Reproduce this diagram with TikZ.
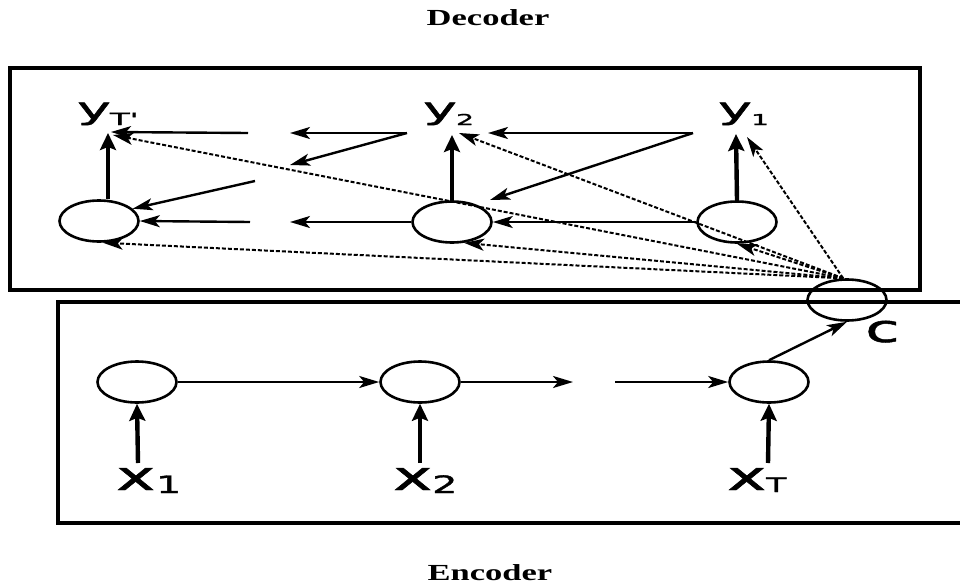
\documentclass[tikz,border=0pt]{standalone}
\usepackage{fontspec}
\usepackage{graphicx}
\newfontfamily\labfont[FakeBold=1.2]{DejaVu Sans}
\newfontfamily\titlefont{Liberation Serif}
\usetikzlibrary{arrows.meta,shapes.geometric}
\newcommand{\fsz}[1]{\fontsize{#1}{#1}\selectfont}
\begin{document}
\begin{tikzpicture}[x=1pt,y=-1pt,
  cell/.style={draw, ellipse, line width=2.6pt, minimum width=79pt, minimum height=41pt, inner sep=0pt},
  frame/.style={line width=3.6pt},
  thickarr/.style={line width=4.4pt, -{Stealth[length=17pt,width=16pt,inset=3pt]}},
  thinarr/.style={line width=2.4pt, -{Stealth[length=20pt,width=12pt,inset=5pt]}},
  dasharr/.style={line width=2pt, dash pattern=on 4pt off 2pt, -{Stealth[length=20pt,width=12pt,inset=5pt]}},
  lab/.style={inner sep=0pt, anchor=base west, font=\labfont},
  titlelab/.style={inner sep=0pt, font=\titlefont\bfseries}
]
\useasboundingbox (0,0) rectangle (960,586);

% titles
\node[titlelab] (dec) at (488,18) {\scalebox{1.5}[1]{\fsz{23}Decoder}};
\node[titlelab] (enc) at (490,573) {\scalebox{1.5}[1]{\fsz{23}Encoder}};

% frames
\draw[frame] (10,68) rectangle (920,290);
\draw[frame] (964,302) -- (58,302) -- (58,523) -- (964,523);

% cells
\node[cell] (d3) at (99,221) {};
\node[cell] (d2) at (452,222) {};
\node[cell] (d1) at (737,222) {};
\node[cell] (e1) at (137,382) {};
\node[cell] (e2) at (420,382) {};
\node[cell] (e3) at (769,382) {};
\node[cell] (c) at (847,300) {};

% labels
\node[lab] (yT) at (77,119) {\scalebox{1.9}[1]{\fsz{30}y\kern-0.5pt\raisebox{-6pt}{\fsz{17}T'}}};
\node[lab] (y2) at (423,119) {\scalebox{1.9}[1]{\fsz{30}y\kern-0.5pt\raisebox{-6pt}{\fsz{15}2}}};
\node[lab] (y1) at (718,119) {\scalebox{1.9}[1]{\fsz{30}y\kern-0.5pt\raisebox{-6pt}{\fsz{15}1}}};
\node[lab] (x1) at (116,490) {\scalebox{1.65}[1]{\fsz{40}x\kern0.5pt\raisebox{-3pt}{\fsz{24}1}}};
\node[lab] (x2) at (393,490) {\scalebox{1.65}[1]{\fsz{40}x\kern0pt\raisebox{-3pt}{\fsz{24}2}}};
\node[lab] (xT) at (727,490) {\scalebox{1.65}[1]{\fsz{40}x\kern0pt\raisebox{-2pt}{\fsz{20}T}}};
\node[lab] (clab) at (865,342) {\scalebox{1.65}[1]{\fsz{38}c}};

% coordinates (free ends)
\coordinate (tTv) at (108,133);
\coordinate (tTh) at (111,132);
\coordinate (tTd) at (113,135);
\coordinate (t2v) at (452,135);
\coordinate (t2h) at (488,133);
\coordinate (t2d) at (459,133);
\coordinate (t1v) at (736,134);
\coordinate (t1d) at (747,137);
\coordinate (a0) at (407,133);
\coordinate (a1) at (290,133);
\coordinate (a2) at (248,133);
\coordinate (b1) at (290,165);
\coordinate (b2) at (255,181);
\coordinate (a3) at (693,133);
\coordinate (b3) at (490,200);
\coordinate (m1) at (290,222);
\coordinate (m2) at (250,222);
\coordinate (g1) at (573,382);
\coordinate (g2) at (615,382);
\coordinate (cs) at (c.100);
\coordinate (x1t) at (138,463);
\coordinate (x2t) at (420,463);
\coordinate (xTt) at (768,463);

% decoder: outputs
\draw[thickarr] (d3.north -| tTv) -- (tTv);
\draw[thickarr] (d2.north) -- (t2v);
\draw[thickarr] (d1.north) -- (t1v);

% decoder: feedback of outputs
\draw[thinarr] (a0) -- (a1);
\draw[thinarr] (a2) -- (tTh);
\draw[thinarr] (a0) -- (b1);
\draw[thinarr] (b2) -- (d3.20);
\draw[thinarr] (a3) -- (t2h);
\draw[thinarr] (a3) -- (b3);

% decoder: hidden states
\draw[thinarr] (d1.west) -- (d2.east);
\draw[thinarr] (d2.west) -- (m1);
\draw[thinarr] (m2) -- (d3.east);

% context
\draw[dasharr] (cs) -- (tTd);
\draw[dasharr] (cs) -- (t2d);
\draw[dasharr] (cs) -- (t1d);
\draw[dasharr] (cs) -- (d3.-80);
\draw[dasharr] (cs) -- (d2.-60);
\draw[dasharr] (cs) -- (d1.south);

% encoder
\draw[thickarr] (x1t) -- (e1.south);
\draw[thickarr] (x2t) -- (e2.south);
\draw[thickarr] (xTt) -- (e3.south);
\draw[thinarr] (e1.east) -- (e2.west);
\draw[thinarr] (e2.east) -- (g1);
\draw[thinarr] (g2) -- (e3.west);
\draw[thinarr] (e3.north) -- (c.south);
\end{tikzpicture}
\end{document}
